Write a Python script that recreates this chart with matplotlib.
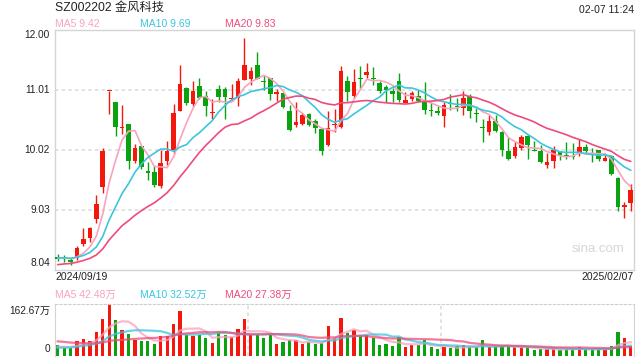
import matplotlib
matplotlib.use("Agg")
import matplotlib.pyplot as plt
import numpy as np
import pandas as pd

plt.rcParams['font.family'] = ['Liberation Sans', 'Noto Sans CJK SC', 'DejaVu Sans']

# ---------------- data ----------------
title = "SZ002202 金风科技"
timestamp = "02-07 11:24"
start_label = "2024/09/19"
end_label = "2025/02/07"
price_ticks = [12.00, 11.01, 10.02, 9.03, 8.04]
vol_top_label = "162.67万"

# closes before the window (used only to seed moving averages)
prior_closes = [7.98, 8.02, 7.95, 7.99, 8.03, 8.01, 7.97, 8.00, 8.05, 8.08,
                8.20, 8.25, 8.22, 8.26, 8.24, 8.21, 8.23, 8.25, 8.24]
prior_vols = [58, 72, 66, 61, 70, 64, 59, 68, 63, 69,
              24, 20, 23, 21, 22, 26, 29, 25, 28]

opens = [8.25, 8.24, 8.20, 8.23, 8.46, 8.56, 8.88, 9.41, 10.98, 10.81,
         10.38, 10.44, 9.84, 10.08, 9.66, 9.65, 9.42, 9.84, 10.02, 10.66,
         11.04, 10.77, 11.07, 10.90, 10.62, 11.02, 11.02, 10.86, 10.87, 11.17,
         11.18, 11.41, 11.16, 11.21, 10.93, 10.95, 10.66, 10.42, 10.44, 10.61,
         10.49, 10.36, 10.09, 10.42, 10.40, 11.16, 10.90, 11.20, 11.26, 11.20,
         11.12, 11.05, 10.98, 11.16, 10.79, 10.86, 10.90, 10.83, 10.66, 10.64,
         10.57, 10.79, 10.73, 10.70, 10.90, 10.61, 10.39, 10.31, 10.50, 10.31,
         9.99, 9.91, 10.04, 10.24, 10.00, 9.99, 9.76, 9.84, 10.00, 9.92,
         9.91, 9.94, 10.07, 9.97, 10.01, 9.84, 9.91, 9.55, 9.08, 9.13]
highs = [8.30, 8.28, 8.23, 8.43, 8.72, 8.75, 9.27, 10.04, 10.99, 10.81,
         10.76, 10.44, 10.11, 10.08, 9.82, 9.75, 10.02, 10.16, 10.77, 11.42,
         11.06, 11.15, 11.20, 10.98, 10.85, 11.09, 11.05, 11.10, 11.20, 11.87,
         11.38, 11.63, 11.26, 11.21, 11.02, 10.95, 10.75, 10.80, 10.63, 10.63,
         10.52, 10.36, 10.66, 10.69, 11.40, 11.23, 11.35, 11.40, 11.45, 11.38,
         11.16, 11.09, 11.03, 11.29, 10.97, 10.99, 11.01, 11.14, 10.81, 10.74,
         10.81, 10.94, 10.88, 10.98, 10.94, 10.70, 10.52, 10.59, 10.59, 10.32,
         10.22, 10.15, 10.26, 10.26, 10.16, 10.09, 9.97, 10.08, 10.00, 10.15,
         10.13, 10.19, 10.11, 10.05, 10.01, 9.95, 9.93, 9.57, 9.16, 9.45]
lows = [8.18, 8.17, 8.12, 8.19, 8.43, 8.50, 8.81, 9.31, 10.60, 10.24,
        10.28, 9.70, 9.80, 9.70, 9.51, 9.41, 9.38, 9.77, 9.94, 10.65,
        10.75, 10.74, 10.85, 10.58, 10.53, 10.81, 10.53, 10.82, 10.74, 11.17,
        11.08, 11.18, 11.01, 10.84, 10.83, 10.70, 10.33, 10.40, 10.42, 10.41,
        10.30, 9.93, 10.08, 10.31, 10.38, 10.83, 10.88, 11.04, 11.20, 11.09,
        10.95, 10.81, 10.81, 10.81, 10.79, 10.82, 10.81, 10.61, 10.58, 10.59,
        10.40, 10.68, 10.65, 10.59, 10.55, 10.48, 10.15, 10.26, 10.31, 9.91,
        9.85, 9.88, 10.02, 9.87, 9.99, 9.80, 9.71, 9.72, 9.85, 9.86,
        9.87, 9.91, 9.94, 9.81, 9.84, 9.83, 9.60, 9.00, 8.89, 9.01]
closes = [8.22, 8.22, 8.16, 8.40, 8.55, 8.73, 9.12, 9.99, 10.99, 10.40,
          10.40, 9.84, 10.05, 9.74, 9.64, 9.44, 9.80, 9.99, 10.63, 11.10,
          10.79, 10.99, 10.87, 10.74, 10.63, 10.89, 10.89, 10.88, 11.16, 11.42,
          11.32, 11.19, 11.13, 10.93, 10.97, 10.72, 10.35, 10.48, 10.59, 10.43,
          10.37, 9.99, 10.37, 10.44, 11.31, 10.97, 11.14, 11.19, 11.30, 11.19,
          10.99, 11.00, 10.93, 10.84, 10.84, 10.95, 10.82, 10.68, 10.65, 10.63,
          10.75, 10.77, 10.72, 10.88, 10.65, 10.60, 10.38, 10.49, 10.32, 10.02,
          9.87, 10.06, 10.22, 10.09, 9.99, 9.82, 9.82, 10.02, 9.93, 9.91,
          9.89, 10.06, 9.99, 9.95, 9.87, 9.88, 9.61, 9.08, 9.10, 9.35]
volumes = [32, 24.6, 24.6, 46, 51, 45, 74, 115.6, 162.67, 112,
           80, 67, 48, 45, 45, 35, 61, 61, 99.5, 141,
           64, 61, 64, 55, 38.5, 73, 64, 58, 83, 115.6,
           64, 64, 55, 64, 35, 42, 48, 48, 35, 42,
           35, 39.6, 93, 54.6, 118.8, 70.6, 80, 61, 64, 54.6,
           32, 35, 29, 58, 25.7, 32, 32, 48, 25.7, 19.3,
           25.7, 22.5, 29, 32, 25.7, 25.7, 48, 27.8, 25.7, 29,
           29, 25.7, 25.7, 25.7, 16, 19.3, 19.3, 22.5, 18.2, 19.3,
           19.3, 25.7, 19.3, 19.3, 19.3, 19.3, 31, 74, 54.6, 31]

ma_periods = [5, 10, 20]
price_ma_labels = ["MA5 9.42", "MA10 9.69", "MA20 9.83"]
vol_ma_labels = ["MA5 42.48万", "MA10 32.52万", "MA20 27.38万"]

# ---------------- style ----------------
RED = '#f4180c'
GREEN = '#0aa20e'
MA_COLORS = ['#f8a3bf', '#3cc5df', '#ee4b7b']
GRID = '#dcdcdc'
FRAME = '#d4d4d4'
W, H = 640, 360

def fx(px):
    return px / W

def fy(py):
    return 1 - py / H

fig = plt.figure(figsize=(6.4, 3.6), dpi=100)
fig.patch.set_facecolor('white')

L, R = 54.5, 634.0
ax = fig.add_axes([fx(L), fy(269.5), fx(R - L), (269.5 - 29.7) / H])
axv = fig.add_axes([fx(L), fy(355.5), fx(R - L), (355.5 - 304.3) / H])

n = len(closes)
x = np.arange(n)
o = np.array(opens); c = np.array(closes); h = np.array(highs); lo = np.array(lows)
up = c >= o
cols = np.where(up, RED, GREEN)

# gridlines
for t in price_ticks[1:-1]:
    ax.axhline(t, color=GRID, lw=1.2, ls=(0, (2, 2)), zorder=0)

# wicks + bodies
ax.vlines(x, lo, h, colors=cols, lw=1.0, zorder=2)
body_bottom = np.minimum(o, c)
body_h = np.maximum(np.abs(c - o), 0.02)
ax.bar(x, body_h, bottom=body_bottom, width=0.72, color=cols, lw=0, zorder=3)

# moving averages (seeded with prior closes)
all_c = pd.Series(prior_closes + closes)
all_v = pd.Series(prior_vols + volumes)
k = len(prior_closes)
for p, col in zip(ma_periods, MA_COLORS):
    ma = all_c.rolling(p).mean().values[k:]
    ax.plot(x, ma, color=col, lw=1.2, zorder=4, solid_capstyle='round')

ax.set_xlim(-0.5, n - 0.5)
ax.set_ylim(price_ticks[-1], price_ticks[0])
ax.set_xticks([]); ax.set_yticks([])
for s in ax.spines.values():
    s.set_color(FRAME); s.set_linewidth(1.0)

# volume panel
vcols = cols
axv.bar(x, volumes, width=0.5, color=vcols, lw=0, zorder=2)
kv = len(prior_vols)
for p, col in zip(ma_periods, MA_COLORS):
    ma = all_v.rolling(p).mean().values[kv:]
    axv.plot(x, ma, color=col, lw=1.6, alpha=0.75, zorder=3)
axv.set_xlim(-0.5, n - 0.5)
axv.set_ylim(0, 162.67)
axv.set_xticks([]); axv.set_yticks([])
for xv in [n / 3 - 0.5, 2 * n / 3 - 0.5]:
    axv.axvline(xv, color=GRID, lw=1.2, ls=(0, (2, 2)), zorder=0)
axv.spines['bottom'].set_visible(False)
axv.spines['top'].set_linestyle((0, (2, 2)))
axv.spines['top'].set_color('#cfcfcf')
for s in ['left', 'right']:
    axv.spines[s].set_color(FRAME)
axv.patch.set_alpha(0)

# ---------------- texts ----------------
fs = 7.5
fig.text(fx(55), fy(8), title, fontsize=8.8, color='#222222', va='center', ha='left')
fig.text(fx(634), fy(10), timestamp, fontsize=fs, color='#222222', va='center', ha='right')
for lab, col, px in zip(price_ma_labels, MA_COLORS, [55, 140, 225]):
    fig.text(fx(px), fy(24), lab, fontsize=fs, color=col, va='center', ha='left')

# price tick labels
for i, t in enumerate(price_ticks):
    ypix = 29.7 + (price_ticks[0] - t) / (price_ticks[0] - price_ticks[-1]) * (269.5 - 29.7)
    if i == 0:
        ypix += 5.5
    elif i == len(price_ticks) - 1:
        ypix -= 6.5
    fig.text(fx(50), fy(ypix), f"{t:.2f}", fontsize=7.3, color='#222222', va='center', ha='right')

fig.text(fx(55), fy(277.5), start_label, fontsize=fs, color='#222222', va='center', ha='left')
fig.text(fx(634), fy(277.5), end_label, fontsize=fs, color='#222222', va='center', ha='right')

for lab, col, px in zip(vol_ma_labels, MA_COLORS, [55, 140, 225]):
    fig.text(fx(px), fy(294.5), lab, fontsize=fs, color=col, va='center', ha='left')

fig.text(fx(50), fy(311), vol_top_label, fontsize=7.3, color='#222222', va='center', ha='right')
fig.text(fx(50), fy(348.5), "0", fontsize=7.3, color='#222222', va='center', ha='right')

fig.text(fx(624), fy(249.5), "sina.com", fontsize=9.5, color='#d6d6d6', va='center', ha='right')

fig.savefig("out.png", dpi=100)
